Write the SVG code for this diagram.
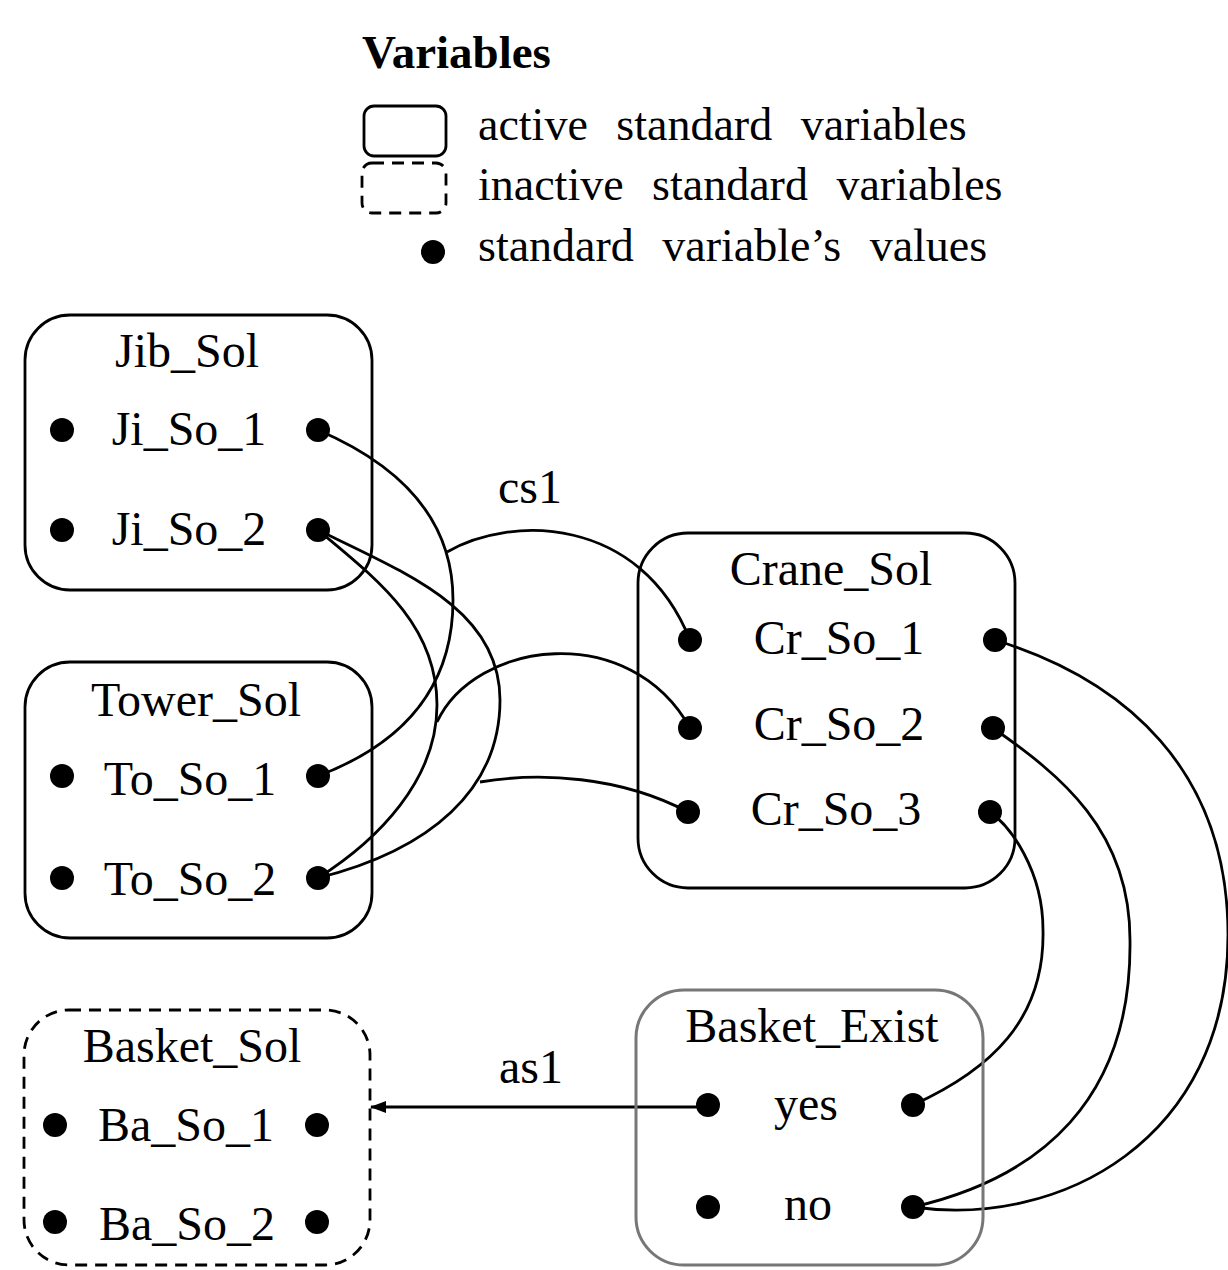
<svg xmlns="http://www.w3.org/2000/svg" width="1228" height="1270" viewBox="0 0 1228 1270">
<style>
text{font-family:"Liberation Serif","Times New Roman",serif;fill:#000}
.t{font-size:48px;text-anchor:middle}
.lg{font-size:46px;word-spacing:17px}
.box{fill:none;stroke:#000;stroke-width:2.8}
.dash{fill:none;stroke:#000;stroke-width:2.8;stroke-dasharray:12 8}
.gray{fill:none;stroke:#777;stroke-width:3}
.dot{fill:#000}
.c{fill:none;stroke:#000;stroke-width:2.8}
</style>
<defs>
<marker id="ah" markerWidth="16" markerHeight="12" refX="15" refY="6" orient="auto" markerUnits="userSpaceOnUse">
<path d="M0,0 L16,6 L0,12 Z" fill="#000"/>
</marker>
</defs>
<rect width="1228" height="1270" fill="#fff"/>
<g id="legend">
<text x="362" y="68" style="font-size:47px;font-weight:bold">Variables</text>
<rect class="box" x="364" y="106" width="82" height="50" rx="10"/>
<rect class="dash" x="362" y="163" width="84" height="50" rx="10"/>
<circle class="dot" cx="433" cy="252" r="12"/>
<text class="lg" x="478" y="140">active standard variables</text>
<text class="lg" x="478" y="200">inactive standard variables</text>
<text class="lg" x="478" y="261">standard variable’s values</text>
</g>
<g id="connectors">
<path class="c" d="M318,430 C388,460 453,510 453,600 C453,690 400,745 318,776"/>
<path class="c" d="M318,530 C378,580 437,625 437,705 C437,780 378,840 318,878"/>
<path class="c" d="M318,530 C408,574 500,610 500,700 C500,790 430,850 318,878"/>
<path class="c" d="M447,552 C510,515 640,515 690,640"/>
<path class="c" d="M437,722 C475,640 630,620 690,728"/>
<path class="c" d="M480,782 C540,772 620,776 688,812"/>
<path class="c" d="M995,640 C1125,680 1228,770 1228,935 C1228,1140 1060,1228 913,1207"/>
<path class="c" d="M993,728 C1060,775 1130,830 1130,940 C1132,1100 1040,1178 913,1207"/>
<path class="c" d="M990,812 C1010,826 1043,870 1043,930 C1045,1020 990,1070 913,1105"/>
<line class="c" x1="708" y1="1107" x2="371" y2="1107" marker-end="url(#ah)"/>
<text class="t" x="530" y="503">cs1</text>
<text class="t" x="531" y="1083">as1</text>
</g>
<g id="Jib_Sol">
<rect class="box" x="25" y="315" width="347" height="275" rx="45"/>
<text class="t" x="187" y="367">Jib_Sol</text>
<circle class="dot" cx="62" cy="430" r="12"/><circle class="dot" cx="318" cy="430" r="12"/>
<text class="t" x="189" y="445">Ji_So_1</text>
<circle class="dot" cx="62" cy="530" r="12"/><circle class="dot" cx="318" cy="530" r="12"/>
<text class="t" x="189" y="545">Ji_So_2</text>
</g>
<g id="Tower_Sol">
<rect class="box" x="25" y="662" width="347" height="276" rx="45"/>
<text class="t" x="196" y="716">Tower_Sol</text>
<circle class="dot" cx="62" cy="776" r="12"/><circle class="dot" cx="318" cy="776" r="12"/>
<text class="t" x="190" y="795">To_So_1</text>
<circle class="dot" cx="62" cy="878" r="12"/><circle class="dot" cx="318" cy="878" r="12"/>
<text class="t" x="190" y="895">To_So_2</text>
</g>
<g id="Basket_Sol">
<rect class="dash" x="24" y="1010" width="346" height="255" rx="45"/>
<text class="t" x="192" y="1062">Basket_Sol</text>
<circle class="dot" cx="55" cy="1125" r="12"/><circle class="dot" cx="317" cy="1125" r="12"/>
<text class="t" x="186" y="1141">Ba_So_1</text>
<circle class="dot" cx="55" cy="1222" r="12"/><circle class="dot" cx="317" cy="1222" r="12"/>
<text class="t" x="187" y="1240">Ba_So_2</text>
</g>
<g id="Crane_Sol">
<rect class="box" x="638" y="533" width="377" height="355" rx="50"/>
<text class="t" x="831" y="585">Crane_Sol</text>
<circle class="dot" cx="690" cy="640" r="12"/><circle class="dot" cx="995" cy="640" r="12"/>
<text class="t" x="839" y="654">Cr_So_1</text>
<circle class="dot" cx="690" cy="728" r="12"/><circle class="dot" cx="993" cy="728" r="12"/>
<text class="t" x="839" y="740">Cr_So_2</text>
<circle class="dot" cx="688" cy="812" r="12"/><circle class="dot" cx="990" cy="812" r="12"/>
<text class="t" x="836" y="825">Cr_So_3</text>
</g>
<g id="Basket_Exist">
<rect class="gray" x="636" y="990" width="347" height="275" rx="48"/>
<text class="t" x="812" y="1042">Basket_Exist</text>
<circle class="dot" cx="708" cy="1105" r="12"/><circle class="dot" cx="913" cy="1105" r="12"/>
<text class="t" x="806" y="1120">yes</text>
<circle class="dot" cx="708" cy="1207" r="12"/><circle class="dot" cx="913" cy="1207" r="12"/>
<text class="t" x="808" y="1220">no</text>
</g>
</svg>
